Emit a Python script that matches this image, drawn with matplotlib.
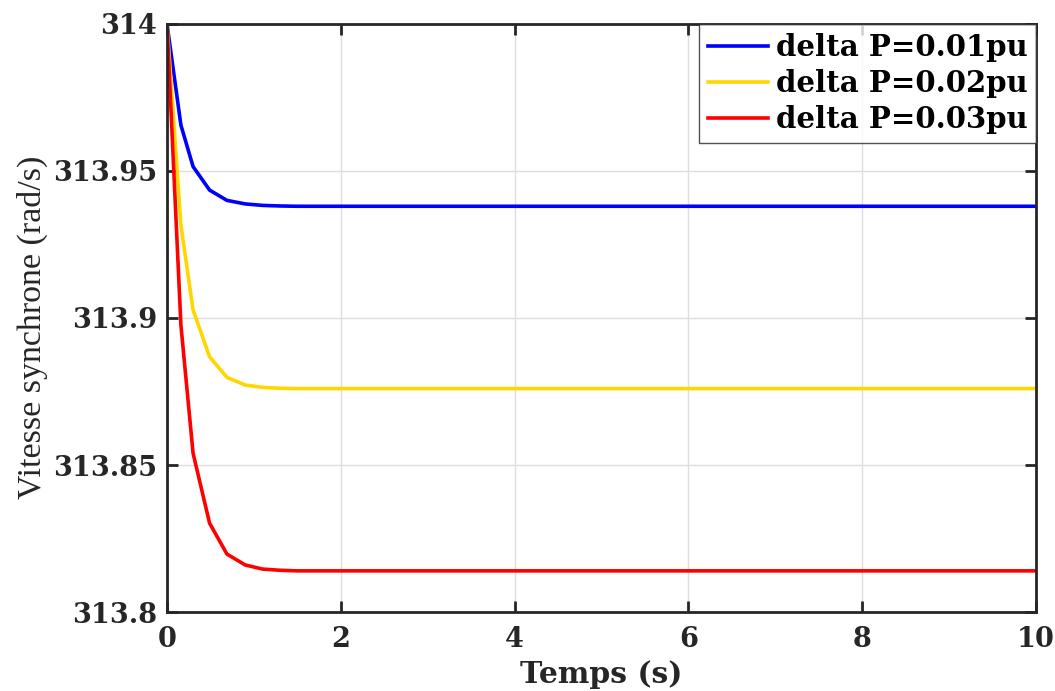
import matplotlib.pyplot as plt
import numpy as np

# time samples (s) and rotor speed for each load step (rad/s)
t = [0, 0.16, 0.3, 0.49, 0.69, 0.9, 1.1, 1.3, 1.5, 2, 3, 4, 5, 6, 7, 8, 9, 10]
w_001 = [314.0, 313.9656, 313.9515, 313.9435, 313.9400, 313.9388, 313.9383, 313.9381, 313.9380,
         313.9380, 313.9380, 313.9380, 313.9380, 313.9380, 313.9380, 313.9380, 313.9380, 313.9380]
w_002 = [314.0, 313.9316, 313.9027, 313.8868, 313.8798, 313.8772, 313.8764, 313.8761, 313.8760,
         313.8760, 313.8760, 313.8760, 313.8760, 313.8760, 313.8760, 313.8760, 313.8760, 313.8760]
w_003 = [314.0, 313.8976, 313.8540, 313.8302, 313.8197, 313.8160, 313.8146, 313.8142, 313.8140,
         313.8140, 313.8140, 313.8140, 313.8140, 313.8140, 313.8140, 313.8140, 313.8140, 313.8140]
labels = ['delta P=0.01pu', 'delta P=0.02pu', 'delta P=0.03pu']
colors = ['#0000ff', '#ffd700', '#ff0000']
yticks = [313.8, 313.85, 313.9, 313.95, 314]
ytick_labels = ['313.8', '313.85', '313.9', '313.95', '314']

plt.rcParams['font.family'] = 'DejaVu Serif'
plt.rcParams['font.weight'] = 'bold'

fig = plt.figure(figsize=(10.55, 6.91), dpi=100)
ax = fig.add_axes([0.1583, 0.1143, 0.8237, 0.851])

for y, lab, c in zip([w_001, w_002, w_003], labels, colors):
    ax.plot(t, y, color=c, lw=2.6, label=lab)

ax.set_xlim(0, 10)
ax.set_ylim(313.8, 314)
ax.set_xticks(np.arange(0, 11, 2))
ax.set_yticks(yticks)
ax.set_yticklabels(ytick_labels)

ax.grid(True, color='#dedede', lw=1)
ax.tick_params(direction='in', length=8, width=2, labelsize=19.5, colors='#262626',
               top=True, right=True)
ax.tick_params(axis='y', pad=7)
ax.tick_params(axis='x', pad=10)
for s in ax.spines.values():
    s.set_linewidth(2)
    s.set_color('#262626')

ax.set_xlabel('Temps (s)', fontsize=21.5, fontweight='bold', color='#262626', labelpad=5)
ax.set_ylabel('Vitesse synchrone (rad/s)', fontsize=24.5, fontweight='normal',
              family='Liberation Serif', color='#262626')
ax.yaxis.set_label_coords(-0.137, 0.485)

leg = ax.legend(loc='upper right', fontsize=21, frameon=True, fancybox=False,
                borderaxespad=0, handlelength=2.05, handletextpad=0.27,
                labelspacing=0.25, borderpad=0.3)
leg.get_frame().set_edgecolor('#262626')
leg.get_frame().set_linewidth(1)
for line in leg.get_lines():
    line.set_linewidth(2.6)

fig.savefig('out.png', dpi=100)
